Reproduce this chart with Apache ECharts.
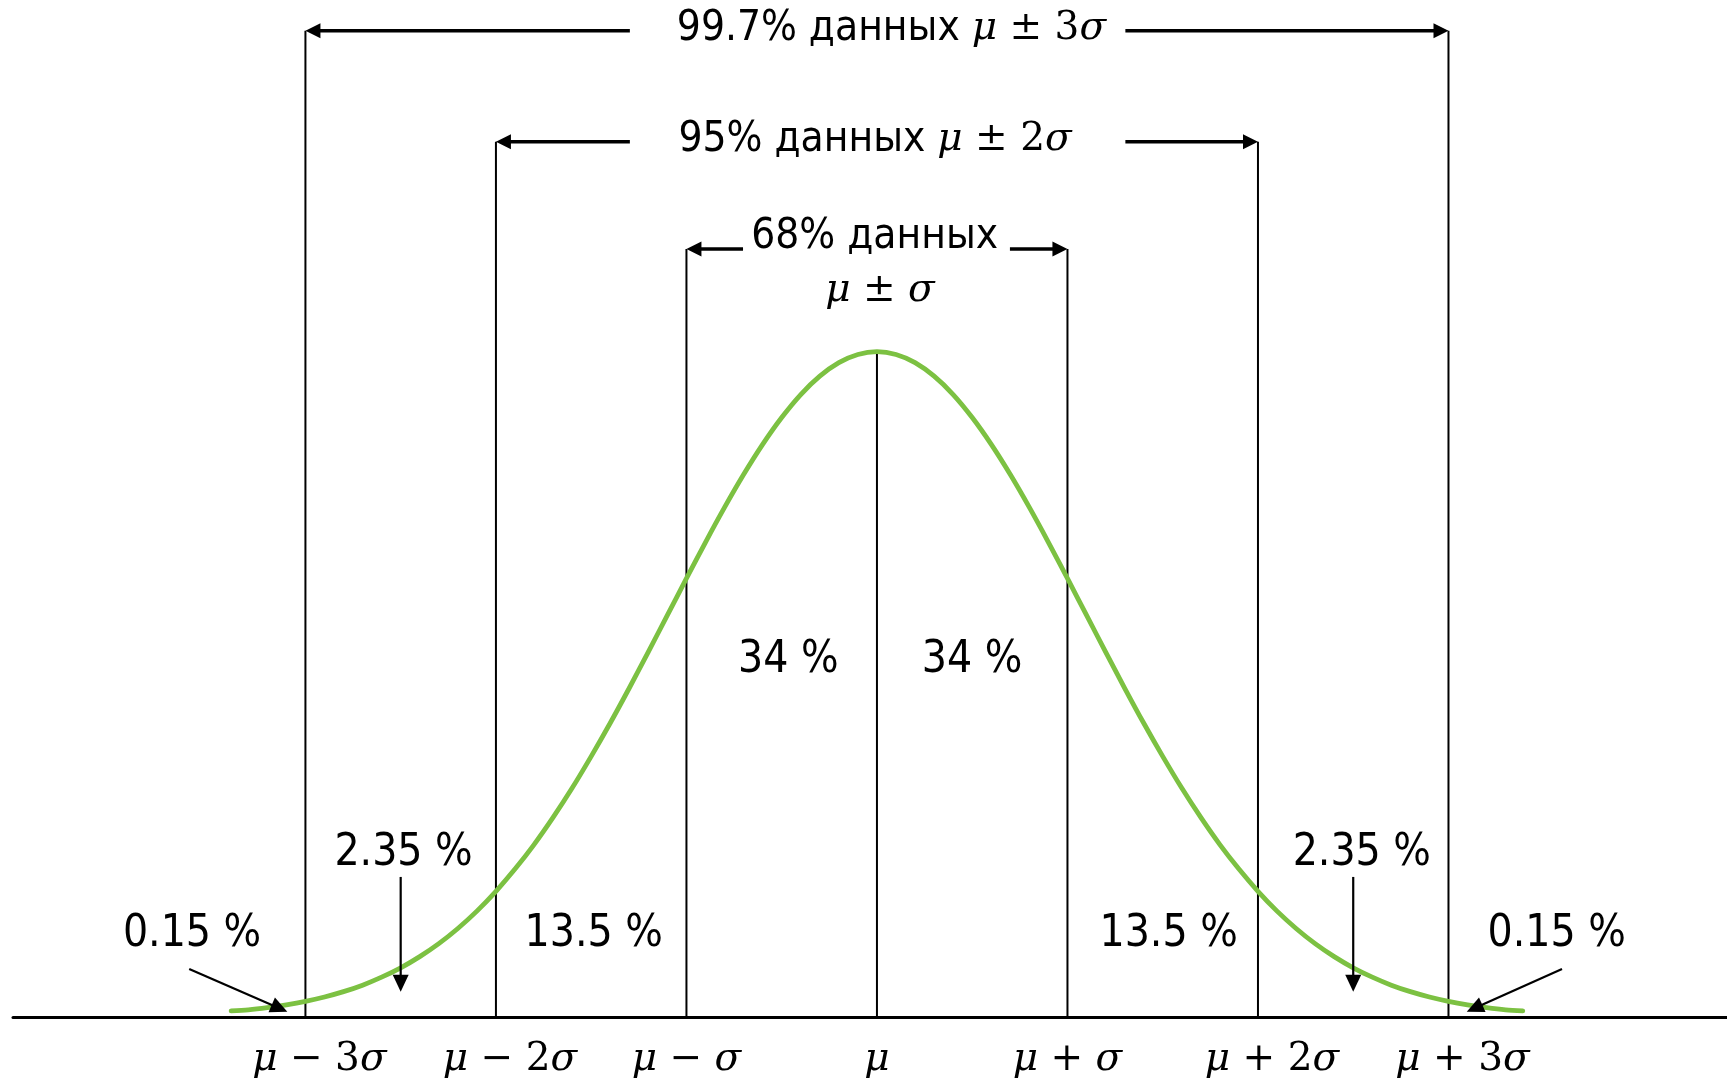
<!DOCTYPE html>
<html>
<head>
<meta charset="utf-8">
<script src="https://cdn.jsdelivr.net/npm/echarts@6/dist/echarts.min.js"></script>
<style>
html,body{margin:0;padding:0;background:#ffffff;}
#chart{width:1727px;height:1085px;}
</style>
</head>
<body>
<div id="chart"></div>
<script>
// ---- data (x in sigma units from the mean, y = curve height) ----
const curveX = [-3.39,-3.3,-3.2,-3.1,-3.0,-2.9,-2.8,-2.7,-2.6,-2.5,-2.4,-2.3,-2.2,-2.1,-2.0,-1.9,-1.8,-1.7,-1.6,-1.5,-1.4,-1.3,-1.2,-1.1,-1.0,-0.9,-0.8,-0.7,-0.6,-0.5,-0.4,-0.3,-0.2,-0.1,0,
                0.1,0.2,0.3,0.4,0.5,0.6,0.7,0.8,0.9,1.0,1.1,1.2,1.3,1.4,1.5,1.6,1.7,1.8,1.9,2.0,2.1,2.2,2.3,2.4,2.5,2.6,2.7,2.8,2.9,3.0,3.1,3.2,3.3,3.39];
const curveY = [0.0037,0.0043,0.0056,0.0073,0.0094,0.0120,0.0152,0.0191,0.0239,0.0295,0.0362,0.0440,0.0531,0.0635,0.0754,0.0887,0.1034,0.1197,0.1373,0.1563,0.1763,0.1973,0.2190,0.2410,0.2630,0.2847,0.3056,0.3253,0.3434,0.3595,0.3733,0.3843,0.3924,0.3973,0.3990,
                0.3973,0.3924,0.3843,0.3733,0.3595,0.3434,0.3253,0.3056,0.2847,0.2630,0.2410,0.2190,0.1973,0.1763,0.1563,0.1373,0.1197,0.1034,0.0887,0.0754,0.0635,0.0531,0.0440,0.0362,0.0295,0.0239,0.0191,0.0152,0.0120,0.0094,0.0073,0.0056,0.0043,0.0037];

const sigmaTicks = [-3,-2,-1,0,1,2,3];
const tickLabels = ['μ − 3σ','μ − 2σ','μ − σ','μ','μ + σ','μ + 2σ','μ + 3σ'];
const guideTop = [0.5915,0.5249,0.4606,0.3990,0.4606,0.5249,0.5915];

const bandLabels = ['0.15 %','2.35 %','13.5 %','34 %','34 %','13.5 %','2.35 %','0.15 %'];
const bandLabelX = [-3.595,-2.485,-1.487,-0.465,0.499,1.531,2.545,3.568];
const bandLabelY = [0.0492,0.0980,0.0492,0.2136,0.2136,0.0492,0.0980,0.0492];

const rangeK = [3,2,1];
const rangeY = [0.5915,0.5249,0.4606];
const rangeInnerL = [-1.297,-1.297,-0.703];
const rangeInnerR = [1.304,1.304,0.698];
const rangeTitle = ['99.7% данных μ ± 3σ','95% данных μ ± 2σ','68% данных','μ ± σ'];
const rangeTitleX = [0.076,-0.010,-0.012,0.016];
const rangeTitleY = [0.5924,0.5260,0.4680,0.4352];

const pointerFrom = [[-3.610,0.0288],[-2.500,0.0840],[2.500,0.0840],[3.596,0.0288]];
const pointerTo   = [[-3.095,0.0032],[-2.500,0.0152],[2.500,0.0152],[3.096,0.0032]];

// ---- styling ----
const SANS = "'DejaVu Sans Condensed','Noto Sans',sans-serif";
const SERIF = "'DejaVu Serif',serif";
const GREEN = '#7cc142';
const richStyles = {
  t:{fontFamily:SANS,fontSize:42,color:'#000'},
  b:{fontFamily:SANS,fontSize:44,color:'#000'},
  i:{fontFamily:SERIF,fontStyle:'italic',fontSize:39,color:'#000'},
  r:{fontFamily:SERIF,fontSize:39,color:'#000'},
  sp:{width:28}
};
function mathRich(s){
  let out='';
  for(const ch of s){
    if(ch==='μ'||ch==='σ') out+='{i|'+ch+'}';
    else out+='{r|'+ch+'}';
  }
  return out;
}
function toRich(s){
  const k=s.indexOf('μ');
  if(k<0) return '{t|'+s+'}';
  const pre=s.slice(0,k);
  return (pre?'{t|'+pre+'}':'')+mathRich(s.slice(k));
}
function arrow(p1,p2,lw,headLen,headHalf){
  const dx=p2[0]-p1[0], dy=p2[1]-p1[1];
  const len=Math.hypot(dx,dy), ux=dx/len, uy=dy/len;
  const bx=p2[0]-ux*headLen, by=p2[1]-uy*headLen;
  return [
    {type:'line',shape:{x1:p1[0],y1:p1[1],x2:bx+ux*2,y2:by+uy*2},style:{stroke:'#000',lineWidth:lw}},
    {type:'polygon',shape:{points:[[p2[0],p2[1]],[bx-uy*headHalf,by+ux*headHalf],[bx+uy*headHalf,by-ux*headHalf]]},style:{fill:'#000'}}
  ];
}

const chart = echarts.init(document.getElementById('chart'), null, {renderer:'canvas'});

const bracketData = [];
rangeK.forEach((k,i)=>{
  bracketData.push([rangeInnerL[i], rangeY[i], -k, rangeY[i], i]);
  bracketData.push([rangeInnerR[i], rangeY[i],  k, rangeY[i], i]);
});

chart.setOption({
  animation:false,
  backgroundColor:'#ffffff',
  grid:{left:13,right:0,top:0,bottom:68},
  xAxis:{
    type:'value',min:-4.535,max:4.462,
    splitLine:{show:false},
    axisTick:{show:false},
    axisLine:{show:true,onZero:true,lineStyle:{color:'#000',width:3}},
    axisLabel:{
      show:true,
      customValues:sigmaTicks,
      margin:21,
      lineHeight:44,
      formatter:function(v){
        const idx=sigmaTicks.indexOf(Math.round(v));
        const s=tickLabels[idx];
        return (/[0-9]/.test(s)?'{sp| }':'')+mathRich(s);
      },
      rich:richStyles
    }
  },
  yAxis:{type:'value',min:0,max:0.6099,show:false,splitLine:{show:false}},
  series:[
    {
      type:'custom',name:'guides',z:2,
      data:sigmaTicks.map((x,i)=>[x,guideTop[i]]),
      renderItem:function(params,api){
        const a=api.coord([api.value(0),0]);
        const b=api.coord([api.value(0),api.value(1)]);
        return {type:'line',shape:{x1:a[0],y1:a[1],x2:b[0],y2:b[1]},style:{stroke:'#000',lineWidth:2}};
      }
    },
    {
      type:'line',name:'curve',z:3,
      data:curveX.map((x,i)=>[x,curveY[i]]),
      smooth:0.3,showSymbol:false,symbol:'none',
      lineStyle:{color:GREEN,width:4.8,cap:'round',join:'round'}
    },
    {
      type:'custom',name:'brackets',z:4,
      data:bracketData,
      renderItem:function(params,api){
        const p1=api.coord([api.value(0),api.value(1)]);
        const p2=api.coord([api.value(2),api.value(3)]);
        return {type:'group',children:arrow(p1,p2,3.5,15,7.5)};
      }
    },
    {
      type:'custom',name:'pointers',z:5,
      data:pointerFrom.map((p,i)=>[p[0],p[1],pointerTo[i][0],pointerTo[i][1]]),
      renderItem:function(params,api){
        const p1=api.coord([api.value(0),api.value(1)]);
        const p2=api.coord([api.value(2),api.value(3)]);
        return {type:'group',children:arrow(p1,p2,2.2,17,8)};
      }
    },
    {
      type:'custom',name:'bandLabels',z:6,
      data:bandLabelX.map((x,i)=>[x,bandLabelY[i]]),
      renderItem:function(params,api){
        const p=api.coord([api.value(0),api.value(1)]);
        return {type:'text',x:p[0],y:p[1],style:{text:'{b|'+bandLabels[params.dataIndex]+'}',rich:richStyles,align:'center',verticalAlign:'middle',fill:'#000'}};
      }
    },
    {
      type:'custom',name:'rangeTitles',z:6,
      data:rangeTitleX.map((x,i)=>[x,rangeTitleY[i]]),
      renderItem:function(params,api){
        const p=api.coord([api.value(0),api.value(1)]);
        return {type:'text',x:p[0],y:p[1],style:{text:toRich(rangeTitle[params.dataIndex]),rich:richStyles,align:'center',verticalAlign:'middle',fill:'#000'}};
      }
    }
  ]
});
</script>
</body>
</html>
